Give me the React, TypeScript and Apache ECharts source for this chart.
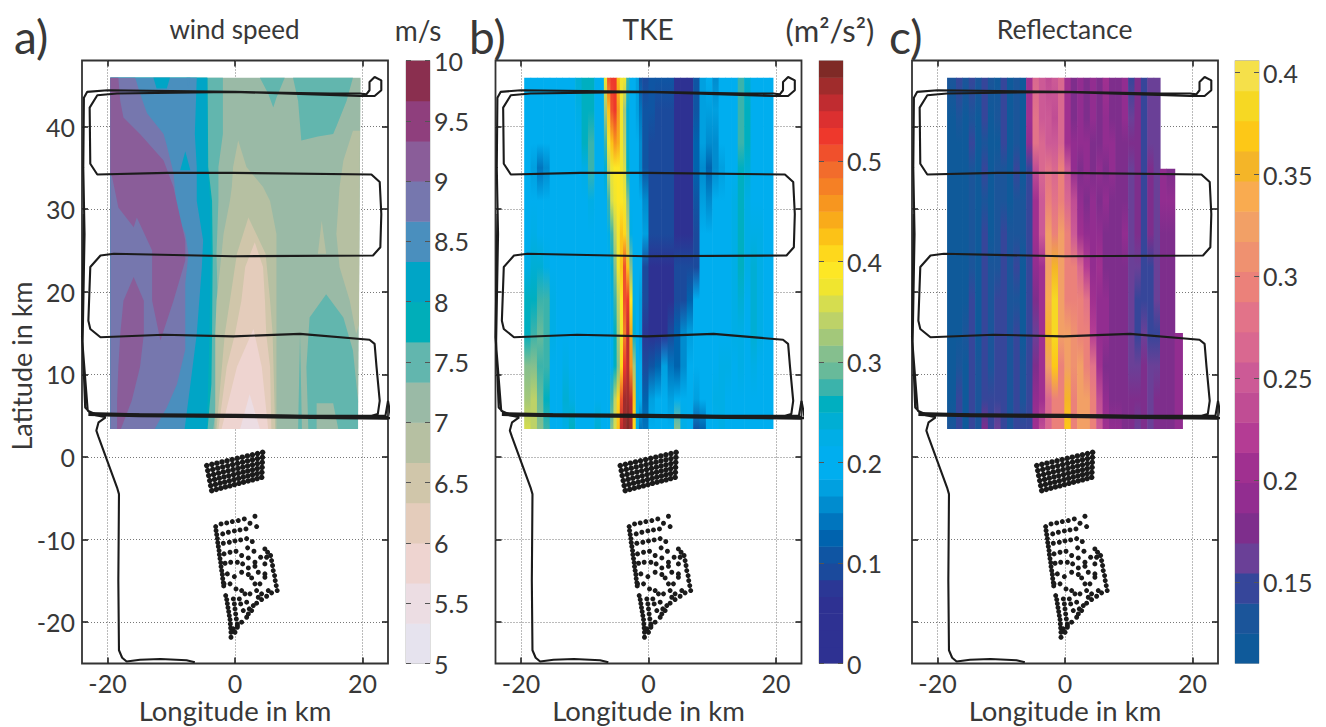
import React, { useEffect, useRef } from "react";
import * as echarts from "echarts";

const FONT = "Lato";
const lonTicks = [-20, 0, 20];
const latTicks = [-20, -10, 0, 10, 20, 30, 40];
const windTicks = [5, 5.5, 6, 6.5, 7, 7.5, 8, 8.5, 9, 9.5, 10];
const tkeTicks = [0, 0.1, 0.2, 0.3, 0.4, 0.5];
const reflectTicks = [0.15, 0.2, 0.25, 0.3, 0.35, 0.4];

const windColors = ["#e6e3ee", "#ecdde3", "#eed4d0", "#e4ccbb", "#d0c6aa", "#b6c0a2", "#9abaa6", "#62b6ae", "#00aeb9", "#00a5c6", "#4a8fbe", "#7677ae", "#8a5d99", "#8f3f7d", "#8a2f4f"];
const tkeColors = ["#2e3192", "#2e3192", "#2e3192", "#2e3192", "#2b3795", "#1b4a9c", "#0f55a3", "#0063ae", "#0075be", "#008ccf", "#00a0e0", "#00aeef", "#00aeef", "#00aee6", "#00aed4", "#00afc0", "#3bb3ab", "#68ba9a", "#85bf8e", "#a3c87a", "#bdd268", "#d6dd4f", "#f0e52f", "#fde725", "#fed81c", "#fcc217", "#f9ab1a", "#f7961f", "#f58025", "#f26c2c", "#f0502c", "#ee382c", "#dc3030", "#c02c30", "#a02c2c", "#7f2a26"];
const reflectColors = ["#0f5a9a", "#1b559a", "#36469a", "#6a4097", "#7e2e8c", "#922d90", "#a03090", "#b43c94", "#c04d94", "#cc5a96", "#d96890", "#e27389", "#eb817a", "#ef9170", "#f2a066", "#f9ab50", "#f4b528", "#fdc817", "#f6d823", "#f5e04a"];

// wind speed contour regions: [colour band, lon/lat outline]
const windBase: number[][] = [[-19.56, 45.9], [19.7, 45.9], [19.3, 3.4], [-19.56, 3.4]];
const windTealWest: number[][] = [[-19.56, 45.9], [-1.9, 45.9], [-1.9, 39.1], [-2.6, 35.1], [-2.6, 31], [-2.9, 24.6], [-2.6, 14.9], [-2.9, 6.8], [-3.4, 3.4], [-19.56, 3.4]];
const windB8: number[][] = [[-19.56, 45.9], [-4.3, 45.9], [-4.2, 35.1], [-3.6, 31], [-3.5, 24.6], [-3.6, 14.9], [-3.7, 8.8], [-4.3, 3.4], [-19.56, 3.4]];
const windB9: number[][] = [[-19.56, 45.9], [-4.4, 45.9], [-4.3, 35.1], [-3.9, 31], [-3.8, 24.6], [-4, 14.9], [-4.4, 3.4], [-19.56, 3.4]];
const windB10: number[][] = [[-19.56, 45.9], [-6, 45.9], [-6.3, 39.1], [-6, 35.1], [-6, 31], [-5, 26.2], [-5.2, 23], [-6, 14.9], [-7, 8.8], [-7.9, 3.4], [-19.56, 3.4]];
const windCyanTop: number[][] = [[-12.8, 45.9], [-10.2, 45.9], [-10.7, 44.6], [-12.3, 44.6]];
const windCyanSpike: number[][] = [[-7.8, 37], [-8.6, 34.7], [-7, 34.7]];
const windB11: number[][] = [[-19.56, 45.9], [-15.65, 45.9], [-14.9, 44], [-13.8, 41.6], [-11.2, 39.1], [-10.7, 37.7], [-9.65, 34.4], [-9.1, 29.5], [-7.8, 27], [-7.3, 24.6], [-7.8, 21], [-7.8, 17], [-7.8, 13], [-9.1, 8.8], [-10.7, 6], [-12.6, 3.4], [-19.56, 3.4]];
const windSliver: number[][] = [[-7.6, 45.9], [-7, 45.9], [-7.3, 44.7]];
const windPlumNorth: number[][] = [[-19.56, 45.9], [-18.3, 45.9], [-18, 43.1], [-17.5, 41.1], [-14.9, 39.1], [-11.2, 35.9], [-9.65, 32.7], [-8.6, 29], [-7.8, 26.2], [-7.8, 23.8], [-9.65, 18.9], [-11.7, 14.1], [-13, 18.9], [-13, 25], [-15.4, 29], [-15.9, 27.8], [-18.3, 30.2], [-19.3, 34], [-19.56, 34.3]];
const windPlumSouth: number[][] = [[-15.9, 21.8], [-14.3, 18.9], [-14.3, 14.9], [-14.9, 10.9], [-16.2, 6.8], [-17.9, 3.4], [-18.5, 3.4], [-18.5, 6.8], [-18.3, 10.9], [-18, 14.9], [-17.5, 18.9]];
const windLee5: number[][] = [[0.5, 38.3], [1.8, 35.1], [4.4, 32.7], [5.5, 31], [6.5, 27], [6.5, 24.6], [6.5, 3.4], [-3.1, 3.4], [-3.1, 14.9], [-2.9, 18.9], [-2.1, 24.6], [-1.8, 27], [-0.8, 31], [-0.5, 32.7], [-0.3, 35.1]];
const windLee4: number[][] = [[2.1, 29], [4.8, 24.6], [5.5, 18.9], [5.9, 14.9], [6.3, 3.4], [-2.9, 3.4], [-1.6, 14.9], [-0.8, 18.9], [0.3, 24.6]];
const windLee3: number[][] = [[3.1, 26], [4.4, 23], [4.7, 18.9], [4.9, 14.9], [5.5, 10.9], [5.7, 3.4], [-2.6, 3.4], [-1.3, 10.9], [0, 14.9], [1, 18.9], [1.6, 23]];
const windLee2: number[][] = [[2.9, 15.5], [4.2, 10.9], [5.2, 3.4], [-2.1, 3.4], [0.3, 10.9]];
const windLee1: number[][] = [[2.3, 7.6], [3.9, 3.4], [0.8, 3.4]];
const windTealN1: number[][] = [[3.9, 45.9], [7.8, 45.9], [6.5, 43.5], [6, 42.3], [5.2, 44]];
const windTealN2: number[][] = [[9.1, 45.9], [18.5, 45.9], [17.5, 43.1], [15.9, 40], [15.4, 39.1], [13, 38.8], [10.4, 38.3], [9.9, 43.1]];
const windTealS: number[][] = [[14.3, 19.7], [17, 16.9], [18.5, 12.9], [19.3, 6.8], [19.3, 3.4], [16.2, 3.4], [15.4, 6.5], [12.8, 6.5], [12.8, 3.4], [11.5, 3.4], [11.2, 10.9], [11.7, 16.9]];
const windTealSliver: number[][] = [[10.2, 14.9], [10.5, 3.4], [9.9, 3.4]];
const windTanEast: number[][] = [[18.5, 39.5], [19.6, 39.5], [19.45, 16], [19, 14.9], [18, 18.9], [16.4, 23], [15.9, 27], [16.4, 32.7], [17, 35.9]];
const windTanIsland: number[][] = [[13.6, 28.6], [14.3, 24.6], [13, 24.6]];
const windRegions: [number, number[][]][] = [
  [6, windBase], [7, windTealWest], [8, windB8], [9, windB9], [10, windB10], [9, windCyanTop], [9, windCyanSpike],
  [11, windB11], [10, windSliver], [12, windPlumNorth], [12, windPlumSouth], [5, windLee5], [4, windLee4], [3, windLee3],
  [2, windLee2], [1, windLee1], [7, windTealN1], [7, windTealN2], [7, windTealS], [7, windTealSliver], [5, windTanEast], [5, windTanIsland],
];

const tkeLats = [45.9, 42, 38, 35, 31, 27, 23, 19, 15, 11, 7, 3.4];
const tkeEdges = [-19.5, -18.5, -17.5, -16.5, -15.5, -14.5, -13.5, -12.5, -11.5, -10.5, -9.5, -8.5, -7.5, -7, -6.5, -6, -5.5, -5, -4.5, -4, -3.5, -3, -2.5, -2, -1.5, -1, 0, 1, 2, 3, 4, 5, 6, 7, 8, 9, 10, 11, 12, 13, 14, 15, 16, 17, 18, 19, 19.6];
const tkeRows: number[][] = [
  [.2, .2, .2, .21, .2, .2, .2, .2, .24, .26, .25, .2, .2, .38, .5, .53, .53, .42, .38, .37, .28, .2, .2, .17, .1, .09, .11, .1, .11, .1, .04, .04, .06, .1, .17, .19, .15, .19, .2, .21, .28, .24, .2, .2, .2, .2],
  [.2, .2, .2, .2, .2, .2, .2, .2, .22, .25, .25, .2, .2, .33, .42, .5, .53, .46, .38, .33, .24, .2, .2, .18, .14, .1, .1, .09, .09, .09, .04, .04, .05, .11, .18, .17, .17, .19, .2, .2, .27, .25, .2, .2, .2, .2],
  [.2, .2, .19, .19, .2, .2, .2, .2, .2, .25, .27, .2, .2, .28, .38, .42, .46, .44, .38, .34, .24, .2, .2, .19, .15, .11, .09, .09, .09, .09, .04, .04, .05, .12, .18, .15, .16, .19, .2, .2, .27, .25, .2, .2, .2, .2],
  [.2, .18, .14, .15, .19, .2, .2, .2, .2, .22, .27, .2, .2, .24, .34, .38, .39, .39, .38, .36, .25, .2, .2, .19, .16, .1, .09, .09, .09, .09, .05, .04, .05, .12, .15, .12, .15, .18, .2, .2, .25, .24, .2, .2, .2, .2],
  [.2, .2, .19, .19, .2, .2, .2, .2, .2, .2, .22, .21, .2, .2, .27, .35, .38, .39, .39, .38, .3, .2, .2, .2, .19, .15, .09, .09, .09, .09, .05, .04, .05, .1, .18, .16, .19, .2, .2, .22, .25, .23, .21, .2, .2, .2],
  [.2, .22, .21, .2, .2, .2, .2, .2, .2, .2, .21, .2, .2, .2, .22, .27, .34, .38, .42, .4, .34, .22, .2, .2, .19, .17, .09, .09, .09, .09, .06, .04, .05, .09, .2, .2, .2, .2, .21, .23, .26, .23, .22, .23, .2, .2],
  [.23, .24, .24, .22, .2, .2, .2, .21, .2, .19, .2, .2, .2, .2, .2, .24, .3, .37, .42, .5, .42, .3, .2, .2, .19, .09, .05, .04, .04, .06, .09, .09, .09, .09, .2, .2, .2, .2, .21, .23, .25, .22, .24, .22, .2, .2],
  [.25, .26, .27, .27, .22, .2, .2, .2, .2, .2, .2, .2, .2, .2, .2, .22, .28, .34, .39, .5, .53, .39, .22, .2, .18, .09, .04, .03, .04, .06, .09, .09, .12, .19, .2, .2, .2, .2, .2, .22, .24, .21, .24, .22, .2, .2],
  [.26, .27, .29, .28, .22, .2, .2, .2, .2, .2, .2, .2, .2, .2, .2, .21, .26, .32, .38, .48, .55, .44, .24, .2, .18, .08, .04, .04, .05, .09, .12, .16, .18, .2, .2, .2, .2, .21, .21, .22, .23, .21, .24, .22, .2, .2],
  [.3, .31, .28, .27, .21, .2, .22, .2, .2, .2, .2, .2, .2, .2, .2, .21, .25, .3, .4, .53, .56, .46, .32, .2, .19, .09, .1, .13, .17, .14, .12, .16, .19, .2, .2, .2, .21, .23, .22, .21, .22, .2, .22, .21, .2, .2],
  [.33, .34, .29, .26, .2, .2, .24, .22, .2, .2, .2, .21, .2, .2, .2, .27, .34, .4, .5, .57, .58, .56, .42, .22, .2, .12, .17, .2, .19, .18, .2, .2, .2, .17, .19, .2, .22, .23, .21, .2, .21, .2, .21, .2, .2, .2],
  [.36, .34, .31, .28, .2, .2, .22, .25, .21, .2, .21, .24, .2, .2, .2, .3, .36, .42, .55, .58, .59, .57, .4, .22, .14, .14, .19, .2, .2, .21, .3, .22, .2, .1, .13, .2, .2, .23, .2, .2, .2, .2, .2, .2, .2, .2],
];

const reflectLats = [45.9, 41, 38, 34.9, 31, 27, 23, 19, 15, 11, 7, 3.4];
const reflectEdges = [-18.5, -17.1, -16.1, -15.1, -14.1, -13.1, -12.1, -11.1, -10.1, -9.1, -8.1, -7.1, -6.1, -5.1, -4.1, -3.1, -2.1, -1.1, -0.1, 0.9, 1.9, 2.9, 3.9, 4.9, 5.9, 6.9, 7.9, 8.9, 9.9, 10.9, 11.9, 12.9, 13.9, 14.9, 15.9, 17.2, 18.5];
const n = null;
const reflectRows: (number | null)[][] = [
  [.13, .14, .13, .14, .13, .15, .13, .12, .15, .12, .13, .12, .2, .27, .25, .24, .25, .27, .2, .18, .19, .17, .19, .18, .2, .18, .17, .19, .15, .17, .14, .16, .16, n, n, n],
  [.12, .13, .12, .13, .12, .14, .12, .13, .15, .12, .13, .12, .2, .28, .25, .25, .24, .26, .2, .18, .19, .18, .19, .17, .19, .18, .18, .19, .16, .18, .14, .16, .16, n, n, n],
  [.12, .12, .12, .14, .12, .13, .12, .12, .14, .12, .13, .12, .19, .28, .26, .25, .25, .26, .21, .19, .19, .19, .18, .18, .19, .19, .18, .18, .17, .17, .14, .16, .16, n, n, n],
  [.12, .12, .12, .13, .12, .14, .12, .13, .13, .12, .14, .12, .15, .23, .27, .28, .27, .29, .25, .19, .18, .19, .18, .19, .18, .19, .17, .18, .16, .17, .14, .17, .16, .19, .18, n],
  [.12, .12, .12, .13, .12, .13, .12, .13, .13, .12, .13, .13, .15, .21, .25, .29, .28, .3, .27, .23, .19, .18, .19, .18, .19, .18, .18, .18, .16, .17, .15, .17, .16, .19, .19, n],
  [.12, .12, .12, .13, .12, .14, .12, .13, .14, .13, .13, .13, .15, .2, .25, .32, .3, .32, .29, .25, .21, .19, .19, .19, .18, .18, .17, .19, .16, .17, .15, .17, .16, .18, .18, n],
  [.12, .12, .12, .13, .12, .14, .13, .13, .14, .13, .14, .12, .15, .19, .2, .33, .36, .32, .3, .3, .27, .22, .19, .2, .18, .17, .17, .17, .16, .16, .15, .15, .16, .17, .18, n],
  [.12, .12, .12, .14, .12, .14, .13, .14, .14, .13, .13, .12, .14, .17, .2, .34, .38, .32, .3, .3, .29, .28, .21, .19, .19, .17, .17, .17, .16, .15, .15, .15, .16, .17, .18, n],
  [.12, .12, .13, .14, .12, .14, .13, .14, .14, .13, .14, .12, .14, .16, .21, .35, .39, .33, .32, .31, .3, .29, .22, .19, .19, .18, .17, .17, .16, .15, .16, .15, .15, .18, .18, .19],
  [.12, .13, .12, .14, .13, .15, .13, .15, .14, .13, .14, .13, .15, .17, .2, .32, .37, .3, .33, .31, .32, .3, .28, .2, .18, .18, .17, .18, .16, .16, .17, .16, .16, .18, .18, .19],
  [.12, .14, .12, .14, .13, .15, .14, .15, .14, .13, .14, .13, .14, .19, .21, .27, .3, .29, .35, .3, .32, .32, .29, .23, .19, .18, .17, .18, .17, .17, .17, .16, .17, .18, .18, .19],
  [.13, .14, .12, .15, .13, .17, .14, .16, .14, .13, .14, .14, .15, .2, .24, .27, .3, .29, .37, .3, .33, .32, .29, .25, .2, .19, .19, .18, .17, .16, .17, .16, .17, .18, .18, .19],
];

const flightTrack: number[][] = [
  [-6.3, -24.85], [-7.6, -24.6], [-11.7, -24.45], [-14.9, -24.55], [-17, -24.75], [-17.7, -24.3], [-18.2, -23.4], [-18.3, -15], [-18.2, -4.5], [-18.5, -3.7], [-21.4, 2.4], [-21.75, 3.2], [-21.4, 4.2], [-20.3, 4.8],
  [-22, 5.1], [-10, 5], [0, 4.9], [10, 4.9], [24.5, 4.7], [24, 6.8], [23.6, 5], [10, 5], [0, 5.1], [-10, 5.1], [-22.5, 5.2], [-23.5, 6],
  [-23.9, 14], [-23.6, 27], [-23.8, 35], [-23.7, 43.5], [-23.2, 44.2], [-20, 44.4], [0, 44.2], [15, 44], [19.6, 44], [20.6, 43.9], [21.1, 44.4], [21.1, 45.4], [21.9, 46], [22.95, 45.6], [22.95, 44.4], [21.9, 43.7], [19.6, 43.7], [-0.26, 44.2], [-18.5, 44], [-21.6, 43.8], [-22.8, 42.3], [-22.7, 35.5], [-21.6, 34.2], [-10.7, 34.4], [-0.26, 34.4], [21.4, 34.2], [22.7, 33.3], [22.95, 29.4], [22.8, 25.4], [21.65, 24.4], [-0.26, 24.3], [-19, 24.6], [-21.1, 24.4], [-22.7, 23], [-23, 16.5], [-22.7, 15.5], [-21.1, 14.5], [-11.2, 14.8], [-0.26, 14.6], [10.2, 14.9], [21.1, 14.2], [21.9, 13.7], [22.2, 10.9], [22.7, 6.8], [22.4, 5.2], [20.6, 4.8], [-10.7, 5], [-21.6, 5.1], [-23.1, 5.6], [-24, 14.5], [-23.7, 29.4],
];
const trackOverlap: number[][] = [[-23, 5.2], [-15, 5.05], [0, 4.95], [12, 4.85], [24, 4.75]];

const turbinesNorth: number[][] = [
  [-4.43, -1.04], [-3.63, -.89], [-2.84, -.75], [-2.04, -.6], [-1.25, -.46], [-.45, -.31], [.35, -.16], [1.14, -.02], [1.94, .13], [2.73, .27], [3.53, .42], [4.33, .57],
  [-4.27, -1.65], [-3.49, -1.5], [-2.71, -1.36], [-1.93, -1.21], [-1.15, -1.07], [-.38, -.92], [.4, -.77], [1.18, -.63], [1.96, -.48], [2.74, -.34], [3.52, -.19], [4.3, -.04],
  [-4.12, -2.25], [-3.36, -2.11], [-2.59, -1.96], [-1.83, -1.81], [-1.07, -1.67], [-.31, -1.52], [.46, -1.38], [1.22, -1.23], [1.98, -1.08], [2.74, -.94], [3.51, -.79], [4.27, -.64],
  [-3.96, -2.86], [-3.21, -2.71], [-2.47, -2.57], [-1.72, -2.42], [-.98, -2.28], [-.23, -2.13], [.51, -1.98], [1.26, -1.84], [2, -1.69], [2.75, -1.55], [3.49, -1.4], [4.24, -1.25],
  [-3.81, -3.46], [-3.08, -3.32], [-2.35, -3.17], [-1.62, -3.03], [-.89, -2.88], [-.16, -2.73], [.56, -2.59], [1.29, -2.44], [2.02, -2.3], [2.75, -2.15], [3.48, -2], [4.21, -1.86],
  [-3.65, -4.07], [-2.94, -3.92], [-2.23, -3.78], [-1.51, -3.63], [-.8, -3.49], [-.09, -3.34], [.62, -3.19], [1.33, -3.05], [2.05, -2.9], [2.76, -2.76], [3.47, -2.61], [4.18, -2.46],
];
const turbinesSouth: number[][] = [
  [-3.03, -8.42], [-2.97, -8.91], [-2.87, -9.39], [-2.76, -9.88], [-2.71, -10.36], [-2.61, -10.84], [-2.5, -11.33], [-2.45, -11.81], [-2.35, -12.3], [-2.24, -12.78], [-2.19, -13.27], [-2.09, -13.75], [-1.98, -14.23], [-1.93, -14.72], [-1.83, -15.2], [-1.77, -15.61],
  [-2.19, -8.1], [-1.3, -7.98], [-.42, -7.82], [.52, -7.7], [1.46, -7.5], [2.35, -8.02], [3.13, -7.17],
  [-1.93, -9.31], [-1.04, -9.11], [-.1, -8.95], [.78, -8.83], [1.72, -8.71], [3.39, -8.42],
  [-1.83, -10.44], [-.89, -10.32], [0, -10.16], [.89, -10.04], [1.83, -9.88], [2.71, -10.24],
  [-1.72, -11.73], [-.78, -11.53], [.16, -11.41], [1.04, -11.93], [1.98, -11], [2.97, -11.41],
  [-1.56, -12.86], [-.68, -12.74], [.37, -12.74], [1.2, -12.94], [2.09, -12.22], [3.13, -12.74], [4.02, -12.14],
  [-1.2, -14.15], [-.1, -14.48], [1.04, -13.95], [2.09, -13.43], [3.13, -13.23], [4.69, -12.94], [4.96, -12.14],
  [-1.72, -15.36], [-.78, -15.36], [.16, -15.97], [1.04, -16.17], [2.09, -14.23], [2.61, -14.64], [3.65, -13.95], [4.69, -14.15], [4.69, -14.56],
  [4.69, -11.13], [5.11, -11.53], [5.58, -11.93], [5.74, -12.54], [5.89, -13.14], [6, -13.75], [6.21, -14.36], [6.31, -14.96], [6.47, -15.57], [6.62, -16.17],
  [5.74, -16.45], [4.96, -16.86], [4.17, -17.26], [3.39, -17.7], [2.61, -18.59], [1.83, -19.4], [1.04, -20], [.37, -20.41],
  [-1.46, -16.78], [-1.3, -17.26], [-1.2, -17.75], [-1.1, -18.23], [-.99, -18.71], [-.89, -19.2], [-.78, -19.68], [-.73, -20.21], [-.68, -20.69], [-.63, -21.22], [-.63, -21.82],
  [-.26, -17.18], [-.1, -17.79], [0, -18.39], [.1, -19], [.21, -19.6], [.37, -20.21],
  [.68, -17.18], [.89, -17.79], [1.56, -16.57], [1.83, -17.58], [2.24, -18.39], [1.3, -18.59], [2.09, -19], [2.87, -17.99], [3.65, -16.98], [3.39, -16.17], [4.17, -16.57], [5.22, -16.17], [2.35, -16.57], [3.13, -15.36], [3.91, -15.36],
  [-.26, -20.81], [.37, -20.61], [0, -21.22],
];

const TEXT = "#383838";

function colourFor(colors: string[], min: number, max: number, v: number) {
  const i = Math.floor(((v - min) / (max - min)) * colors.length);
  return colors[Math.max(0, Math.min(colors.length - 1, i))];
}

function App() {
  const ref = useRef<HTMLDivElement>(null);
  useEffect(() => {
    document.body.style.margin = "0";
    const chart = echarts.init(ref.current!, null, { renderer: "svg" });

    const panels = [
      { left: 82, name: "wind speed", nameSize: 26, letter: "a)", letterX: 14, unit: "m/s", unitSize: 28, unitX: 418, barLeft: 406 },
      { left: 495.5, name: "TKE", nameSize: 28, letter: "b)", letterX: 469, unit: "(m²/s²)", unitSize: 31, unitX: 830, barLeft: 819 },
      { left: 912, name: "Reflectance", nameSize: 26.5, letter: "c)", letterX: 889, unit: "", unitSize: 0, unitX: 0, barLeft: 1235 },
    ];
    const top = 60.5, height = 603, width = 306;
    const grids: any[] = [], xAxes: any[] = [], yAxes: any[] = [], series: any[] = [], graphic: any[] = [];
    const labelStyle = { color: TEXT, fontFamily: FONT, fontSize: 25 };
    const tick = { show: true, inside: true, length: 6, lineStyle: { color: "#222", width: 1.6 } };
    const dotted = { show: true, lineStyle: { type: [1, 2], color: "#777", width: 1 } };
    const noLine = { show: false, onZero: false };

    panels.forEach((p, k) => {
      grids.push({ show: true, outerBoundsMode: "none", left: p.left, top, width, height, borderColor: "#333", borderWidth: 1.8, backgroundColor: "#fff" });
      const gi = grids.length - 1;
      const xi = xAxes.length;
      const yi = yAxes.length;
      xAxes.push({
        type: "value", gridIndex: gi, min: -24, max: 24, name: "Longitude in km", nameLocation: "middle", nameGap: 34, nameMoveOverlap: false,
        nameTextStyle: { color: TEXT, fontFamily: FONT, fontSize: 27.5, lineHeight: 26 },
        axisLine: noLine, axisTick: { ...tick, customValues: lonTicks },
        axisLabel: { ...labelStyle, lineHeight: 24, margin: 7, customValues: lonTicks }, splitLine: dotted,
      });
      xAxes.push({ type: "value", gridIndex: gi, position: "top", min: -24, max: 24, axisLine: noLine, axisTick: { ...tick, customValues: lonTicks }, axisLabel: { show: false, customValues: lonTicks }, splitLine: { show: false } });
      yAxes.push({
        type: "value", gridIndex: gi, position: "left", min: -25, max: 48,
        axisLine: noLine, axisTick: { ...tick, customValues: latTicks },
        axisLabel: { ...labelStyle, margin: 7, show: k === 0, customValues: latTicks }, splitLine: dotted,
      });
      yAxes.push({ type: "value", gridIndex: gi, position: "right", min: -25, max: 48, axisLine: noLine, axisTick: { ...tick, customValues: latTicks }, axisLabel: { show: false, customValues: latTicks }, splitLine: { show: false } });

      if (k === 0) {
        series.push({
          type: "custom", xAxisIndex: xi, yAxisIndex: yi, z: 2, silent: true, clip: true,
          data: windRegions.map((_, i) => [i, 0]),
          renderItem: (_: any, api: any) => {
            const [band, pts] = windRegions[api.value(0)];
            return { type: "polygon", shape: { points: pts.map((q) => api.coord(q)) }, style: { fill: windColors[band] } };
          },
        });
      } else {
        const isTke = k === 1;
        const lats = isTke ? tkeLats : reflectLats;
        const edges = isTke ? tkeEdges : reflectEdges;
        const rows: any[][] = isTke ? tkeRows : reflectRows;
        const colors = isTke ? tkeColors : reflectColors;
        const vmin = isTke ? 0 : 0.11;
        const vmax = isTke ? 0.6 : 0.406;
        series.push({
          type: "custom", xAxisIndex: xi, yAxisIndex: yi, z: 2, silent: true, clip: true,
          data: edges.slice(0, -1).map((_, i) => [i, 0]),
          renderItem: (_: any, api: any) => {
            const c = api.value(0);
            let r0 = 0;
            while (rows[r0][c] == null) r0++;
            const last = lats.length - 1;
            const a = api.coord([edges[c], lats[r0]]);
            const b = api.coord([edges[c + 1], lats[last]]);
            const stops: any[] = [];
            for (let r = r0; r <= last; r++) {
              stops.push({ offset: (lats[r0] - lats[r]) / (lats[r0] - lats[last]), color: colourFor(colors, vmin, vmax, rows[r][c]) });
            }
            return {
              type: "rect",
              shape: { x: a[0], y: a[1], width: b[0] - a[0] + (c < edges.length - 2 ? 0.6 : 0), height: b[1] - a[1] },
              style: { fill: new echarts.graphic.LinearGradient(0, 0, 0, 1, stops) },
            };
          },
        });
      }
      series.push({ type: "line", xAxisIndex: xi, yAxisIndex: yi, z: 3, silent: true, showSymbol: false, clip: true, data: flightTrack, lineStyle: { color: "#1b1b1b", width: 2.1 } });
      series.push({ type: "line", xAxisIndex: xi, yAxisIndex: yi, z: 3, silent: true, showSymbol: false, clip: true, data: trackOverlap, lineStyle: { color: "#1b1b1b", width: 4 } });
      series.push({ type: "scatter", xAxisIndex: xi, yAxisIndex: yi, z: 3, silent: true, symbolSize: 5.5, data: turbinesNorth, itemStyle: { color: "#1b1b1b", opacity: 1 } });
      series.push({ type: "scatter", xAxisIndex: xi, yAxisIndex: yi, z: 3, silent: true, symbolSize: 5, data: turbinesSouth, itemStyle: { color: "#1b1b1b", opacity: 1 } });

      // colour bar
      const isWind = k === 0, isTkeBar = k === 1;
      const barColors = isWind ? windColors : isTkeBar ? tkeColors : reflectColors;
      const bmin = isWind ? 5 : isTkeBar ? 0 : 0.11;
      const bmax = isWind ? 10 : isTkeBar ? 0.6 : 0.406;
      const bTicks = isWind ? windTicks : isTkeBar ? tkeTicks : reflectTicks;
      grids.push({ show: true, outerBoundsMode: "none", left: p.barLeft, top, width: 24, height, borderColor: "#bdbdbd", borderWidth: 1 });
      const bg = grids.length - 1;
      const bx = xAxes.length;
      const by = yAxes.length;
      xAxes.push({ type: "value", gridIndex: bg, min: 0, max: 1, show: false });
      const barTick = { show: true, inside: true, length: 5, lineStyle: { color: "#555", width: 1 }, customValues: bTicks };
      yAxes.push({
        type: "value", gridIndex: bg, position: "right", min: bmin, max: bmax, z: 5, axisLine: noLine, axisTick: barTick,
        axisLabel: { ...labelStyle, margin: 4, customValues: bTicks }, splitLine: { show: false },
      });
      yAxes.push({ type: "value", gridIndex: bg, position: "left", min: bmin, max: bmax, z: 5, axisLine: noLine, axisTick: barTick, axisLabel: { show: false, customValues: bTicks }, splitLine: { show: false } });
      const step = (bmax - bmin) / barColors.length;
      series.push({
        type: "custom", xAxisIndex: bx, yAxisIndex: by, z: 2, silent: true, clip: true,
        data: barColors.map((_, i) => [i, 0]),
        renderItem: (_: any, api: any) => {
          const i = api.value(0);
          const a = api.coord([0, bmin + step * (i + 1)]);
          const b = api.coord([1, bmin + step * i]);
          return { type: "rect", shape: { x: a[0], y: a[1], width: b[0] - a[0], height: b[1] - a[1] + 0.5 }, style: { fill: barColors[i] } };
        },
      });

      graphic.push({ type: "text", x: p.letterX, y: 36, style: { text: p.letter, fill: TEXT, font: `46px ${FONT}`, align: "left", verticalAlign: "middle" } });
      graphic.push({ type: "text", x: p.left + width / 2 - 0.5, y: 29, style: { text: p.name, fill: TEXT, font: `${p.nameSize}px ${FONT}`, align: "center", verticalAlign: "middle" } });
      if (p.unit) graphic.push({ type: "text", x: p.unitX, y: 30, style: { text: p.unit, fill: TEXT, font: `${p.unitSize}px ${FONT}`, align: "center", verticalAlign: "middle" } });
    });
    graphic.push({ type: "text", x: 21, y: 366, rotation: Math.PI / 2, style: { text: "Latitude in km", fill: TEXT, font: `27px ${FONT}`, align: "center", verticalAlign: "middle" } });

    chart.setOption({ animation: false, backgroundColor: "#fff", grid: grids, xAxis: xAxes, yAxis: yAxes, series, graphic: { elements: graphic } });
    return () => chart.dispose();
  }, []);
  return <div ref={ref} style={{ width: 1326, height: 727 }} />;
}

export default App;
